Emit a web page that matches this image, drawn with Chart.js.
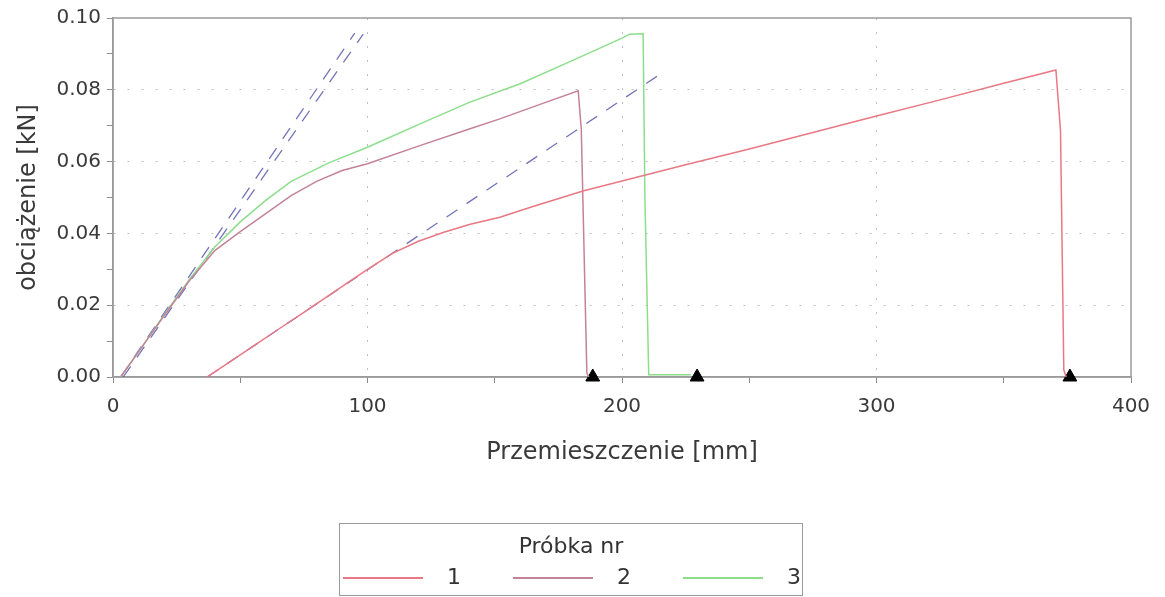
<!DOCTYPE html>
<html>
<head>
<meta charset="utf-8">
<script src="https://cdn.jsdelivr.net/npm/chart.js@4.4.1/dist/chart.umd.min.js"></script>
<style>
  body { margin: 0; background: #fff; font-family: "DejaVu Sans", sans-serif; }
  #wrap { position: relative; width: 1165px; height: 597px; }
  #chart { position: absolute; left: 0; top: 0; }
  #legend { position: absolute; left: 339px; top: 523px; width: 462px; height: 71px;
            border: 1.5px solid #9a9a9a; color: #333; }
  #legend .title { position: absolute; left: 0; right: 0; top: 9px; text-align: center; font-size: 22px; }
  #legend .item { position: absolute; top: 40px; height: 26px; }
  #legend .swatch { position: absolute; top: 13px; width: 80px; height: 2px; }
  #legend .lab { position: absolute; left: 104px; top: 0; font-size: 22px; }
</style>
</head>
<body>
<div id="wrap">
  <canvas id="chart" width="1165" height="597"></canvas>
  <div id="legend"></div>
</div>
<script>
// specimens
var specimens = ['1', '2', '3'];
var colors = ['rgb(232,120,132)', 'rgb(196,130,152)', 'rgb(140,222,140)'];

// specimen 1
var x1 = [37, 45, 55, 65, 75, 85, 100, 110, 120, 130, 140, 152, 165, 185, 200, 225, 250, 275, 300, 325, 350, 370.5, 372.3, 373.6, 374.5];
var y1 = [0, 0.0038, 0.0085, 0.0133, 0.018, 0.0228, 0.0300, 0.0345, 0.0378, 0.0403, 0.0425, 0.0445, 0.0475, 0.0519, 0.0546, 0.0591, 0.0635, 0.0681, 0.0727, 0.0772, 0.0818, 0.0855, 0.0686, 0.002, 0];

// specimen 2
var x2 = [3, 10, 20, 30, 40, 50, 60, 70, 80, 90, 100, 120, 140, 152, 170, 182.8, 184, 186.2, 187];
var y2 = [0, 0.0070, 0.0170, 0.0268, 0.0352, 0.0405, 0.0455, 0.0505, 0.0545, 0.0575, 0.0594, 0.0643, 0.0691, 0.0719, 0.0765, 0.0797, 0.0690, 0.0010, 0];

// specimen 3
var x3 = [3, 10, 20, 30, 40, 50, 60, 70, 85, 100, 120, 140, 160, 180, 200, 203, 208.3, 209, 210.5, 227];
var y3 = [0, 0.0070, 0.0172, 0.0272, 0.0362, 0.0432, 0.0492, 0.0545, 0.0597, 0.0640, 0.0703, 0.0765, 0.0817, 0.0880, 0.0944, 0.0955, 0.0956, 0.0500, 0.0006, 0.0006];

// tangent lines (dashed)
var tangentX = [[3, 95], [4, 98.3], [37, 217]];
var tangentY = [[0, 0.0958], [0, 0.0955], [0, 0.0853]];

// break markers
var breakX = [188.5, 229.5, 376];
var breakY = [0, 0, 0];

function pts(xs, ys) {
  return xs.map(function(x, i) { return { x: x, y: ys[i] }; });
}

var datasets = [];
var seriesX = [x1, x2, x3];
var seriesY = [y1, y2, y3];
for (var i = 0; i < 3; i++) {
  datasets.push({
    label: specimens[i],
    data: pts(seriesX[i], seriesY[i]),
    showLine: true,
    borderColor: colors[i],
    borderWidth: 1.5,
    pointRadius: 0,
    tension: 0
  });
}
for (var j = 0; j < tangentX.length; j++) {
  datasets.push({
    label: 'tangent' + j,
    data: pts(tangentX[j], tangentY[j]),
    showLine: true,
    borderColor: 'rgba(80,80,165,0.8)',
    borderWidth: 1.3,
    borderDash: [13, 11],
    pointRadius: 0
  });
}
datasets.push({
  label: 'break',
  data: pts(breakX, breakY),
  showLine: false,
  clip: false,
  pointStyle: 'triangle',
  pointRadius: 8,
  backgroundColor: '#000',
  borderColor: '#000',
  borderWidth: 1
});

// frame round the plot area
var framePlugin = {
  id: 'frame',
  beforeDatasetsDraw: function(chart) {
    var a = chart.chartArea, c = chart.ctx;
    c.save();
    c.strokeStyle = '#9a9a9a';
    c.lineWidth = 1.5;
    c.strokeRect(a.left, a.top, a.right - a.left, a.bottom - a.top);
    c.restore();
  }
};

var ctx = document.getElementById('chart').getContext('2d');
var chart = new Chart(ctx, {
  type: 'scatter',
  data: { datasets: datasets },
  plugins: [framePlugin],
  options: {
    responsive: false,
    animation: false,
    devicePixelRatio: 1,
    layout: { padding: { left: 0, right: 34, top: 16, bottom: 130 } },
    plugins: { legend: { display: false }, tooltip: { enabled: false } },
    scales: {
      x: {
        type: 'linear', min: 0, max: 400,
        afterFit: function(s) { s.height = 90; },
        ticks: {
          stepSize: 50, padding: 12, color: '#3a3a3a',
          font: { family: 'DejaVu Sans', size: 20 },
          callback: function(v) { return v % 100 === 0 ? String(v) : ''; }
        },
        grid: {
          tickLength: 6, tickColor: '#8a8a8a', lineWidth: 1,
          color: function(c) {
            var v = c.tick && c.tick.value;
            return (v % 100 === 0 && v > 0 && v < 400) ? '#bdbdbd' : 'rgba(0,0,0,0)';
          }
        },
        border: { color: '#9a9a9a', width: 1.5, dash: [2, 12] },
        title: {
          display: true, text: 'Przemieszczenie [mm]', color: '#3a3a3a',
          font: { family: 'DejaVu Sans', size: 24 }, padding: { top: 0, bottom: 0 }
        }
      },
      y: {
        type: 'linear', min: 0, max: 0.1,
        afterFit: function(s) { s.width = 113; },
        ticks: {
          stepSize: 0.01, padding: 6, color: '#3a3a3a',
          font: { family: 'DejaVu Sans', size: 20 },
          callback: function(v) {
            var k = Math.round(v * 100);
            return k % 2 === 0 ? (k / 100).toFixed(2) : '';
          }
        },
        grid: {
          tickLength: 6, tickColor: '#8a8a8a', lineWidth: 1,
          color: function(c) {
            var k = c.tick ? Math.round(c.tick.value * 100) : 1;
            return (k % 2 === 0 && k > 0 && k < 10) ? '#bdbdbd' : 'rgba(0,0,0,0)';
          }
        },
        border: { color: '#9a9a9a', width: 1.5, dash: [2, 12] },
        title: {
          display: true, text: 'obciążenie [kN]', color: '#3a3a3a',
          font: { family: 'DejaVu Sans', size: 24 }, padding: { top: 14, bottom: 0 }
        }
      }
    }
  }
});

// legend
var legend = document.getElementById('legend');
var t = document.createElement('div');
t.className = 'title';
t.textContent = 'Próbka nr';
legend.appendChild(t);
var itemLeft = [3, 173, 343];
specimens.forEach(function(name, i) {
  var it = document.createElement('div');
  it.className = 'item';
  it.style.left = itemLeft[i] + 'px';
  var sw = document.createElement('div');
  sw.className = 'swatch';
  sw.style.background = colors[i];
  var lb = document.createElement('div');
  lb.className = 'lab';
  lb.textContent = name;
  it.appendChild(sw);
  it.appendChild(lb);
  legend.appendChild(it);
});
</script>
</body>
</html>
